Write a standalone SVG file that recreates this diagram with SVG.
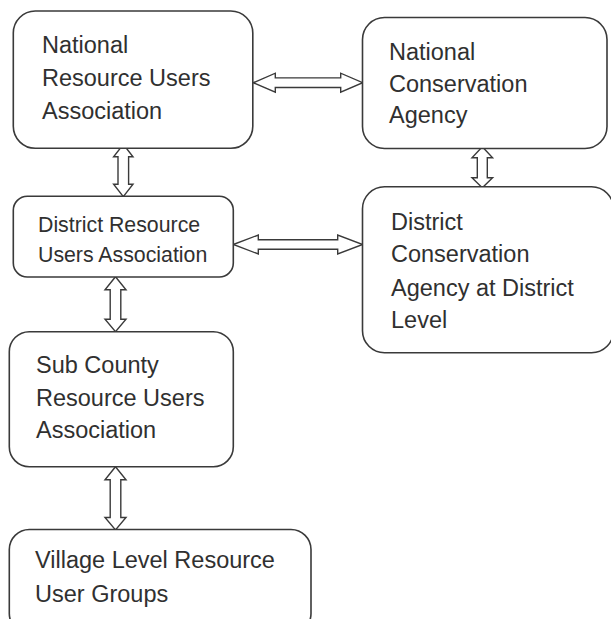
<svg xmlns="http://www.w3.org/2000/svg" width="611" height="619" viewBox="0 0 611 619">
<style>
.box{fill:#fff;stroke:#3a3a3a;stroke-width:1.6}
.arr{fill:#fff;stroke:#3a3a3a;stroke-width:1.4;stroke-linejoin:miter}
.t{font-family:"Liberation Sans",Arial,sans-serif;font-size:23.5px;fill:#303030}
.s{font-size:21.3px}
</style>
<rect width="611" height="619" fill="#fff"/>
<g id="connectors">
<path class="arr" d="M253.3,82.7 L275.3,73.2 L275.3,77.9 L340.7,77.9 L340.7,73.2 L362.7,82.7 L340.7,92.2 L340.7,87.5 L275.3,87.5 L275.3,92.2 Z"/>
<path class="arr" d="M233.3,244.5 L258.3,235 L258.3,239.8 L337.7,239.8 L337.7,235 L362.7,244.5 L337.7,254 L337.7,249.2 L258.3,249.2 L258.3,254 Z"/>
<path class="arr" d="M123.3,144.3 L133,156.8 L128.6,156.8 L128.6,184.2 L133,184.2 L123.3,196.7 L113.6,184.2 L118,184.2 L118,156.8 L113.6,156.8 Z"/>
<path class="arr" d="M482.3,146.7 L492.6,157.7 L487.3,157.7 L487.3,177.7 L492.6,177.7 L482.3,187.7 L472,177.7 L477.3,177.7 L477.3,157.7 L472,157.7 Z"/>
<path class="arr" d="M115.5,276.7 L126,289.7 L120.8,289.7 L120.8,319.2 L126,319.2 L115.5,331.7 L105,319.2 L110.2,319.2 L110.2,289.7 L105,289.7 Z"/>
<path class="arr" d="M115.5,466.7 L126,479.7 L120.8,479.7 L120.8,517.5 L126,517.5 L115.5,530 L105,517.5 L110.2,517.5 L110.2,479.7 L105,479.7 Z"/>
</g>
<g id="national-rua">
<rect class="box" x="13.3" y="11" width="239.5" height="137.3" rx="22"/>
<text class="t" x="42" y="53.3">National</text>
<text class="t" x="42" y="86.3">Resource Users</text>
<text class="t" x="42" y="118.7">Association</text>
</g>
<g id="national-ca">
<rect class="box" x="362.5" y="17.5" width="244.5" height="131" rx="22"/>
<text class="t" x="389" y="60">National</text>
<text class="t" x="389" y="91.7">Conservation</text>
<text class="t" x="389" y="123.3">Agency</text>
</g>
<g id="district-rua">
<rect class="box" x="13.3" y="196.3" width="220" height="80.7" rx="14"/>
<text class="t s" x="38" y="232.3">District Resource</text>
<text class="t s" x="38" y="261.8">Users Association</text>
</g>
<g id="district-ca">
<rect class="box" x="362.5" y="186.8" width="251" height="165.9" rx="22"/>
<text class="t" x="391" y="230">District</text>
<text class="t" x="391" y="262">Conservation</text>
<text class="t" x="391" y="296">Agency at District</text>
<text class="t" x="391" y="328">Level</text>
</g>
<g id="subcounty-rua">
<rect class="box" x="9.3" y="331.7" width="224" height="135" rx="20"/>
<text class="t" x="36" y="373.3">Sub County</text>
<text class="t" x="36" y="406">Resource Users</text>
<text class="t" x="36" y="437.7">Association</text>
</g>
<g id="village-rug">
<rect class="box" x="9.3" y="529.5" width="301.7" height="104" rx="20"/>
<text class="t" x="35" y="568.3">Village Level Resource</text>
<text class="t" x="35" y="601.7">User Groups</text>
</g>
</svg>
